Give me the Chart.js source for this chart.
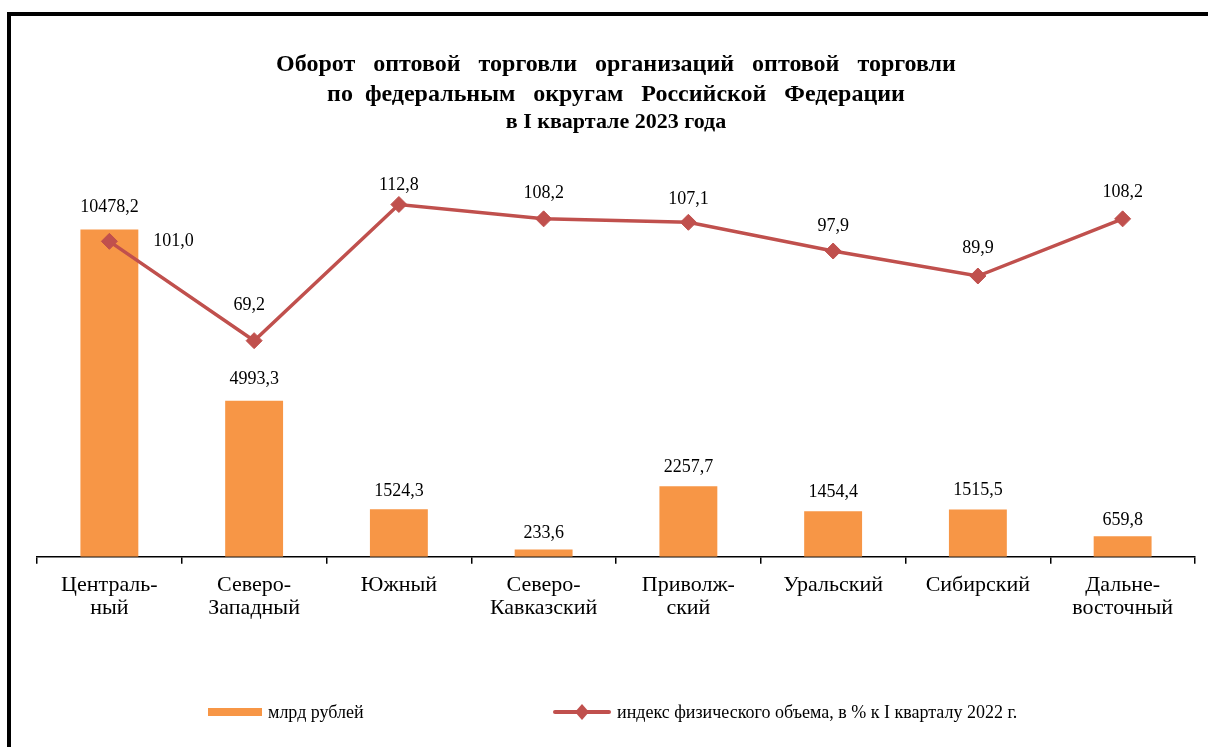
<!DOCTYPE html>
<html>
<head>
<meta charset="utf-8">
<script src="https://cdn.jsdelivr.net/npm/chart.js@4/dist/chart.umd.min.js"></script>
<style>
  html, body { margin: 0; padding: 0; background: #fff; overflow: hidden; }
  #wrap { position: relative; width: 1208px; height: 747px; }
  #frame { position: absolute; left: 7px; top: 12px; width: 1300px; height: 900px;
           border-top: 4px solid #000; border-left: 4px solid #000; box-sizing: border-box; }
  canvas { position: absolute; left: 0; top: 0; }
</style>
</head>
<body>
<div id="wrap">
  <div id="frame"></div>
  <canvas id="c" width="1208" height="747"></canvas>
</div>
<script>
// ---- Data ----
const categories = [
  ['Централь-', 'ный'],
  ['Северо-', 'Западный'],
  ['Южный'],
  ['Северо-', 'Кавказский'],
  ['Приволж-', 'ский'],
  ['Уральский'],
  ['Сибирский'],
  ['Дальне-', 'восточный']
];
const turnover = [10478.2, 4993.3, 1524.3, 233.6, 2257.7, 1454.4, 1515.5, 659.8];
const volumeIndex = [101.0, 69.2, 112.8, 108.2, 107.1, 97.9, 89.9, 108.2];
const seriesNames = ['млрд рублей', 'индекс физического объема, в % к I кварталу 2022 г.'];
const titleLines = [
  'Оборот   оптовой   торговли   организаций   оптовой   торговли',
  'по  федеральным   округам   Российской   Федерации'
];
const subtitleText = 'в I квартале 2023 года';

// ---- Styles ----
const BAR_COLOR = '#F79646';
const LINE_COLOR = '#C0504D';
const SERIF = "'Liberation Serif', 'Times New Roman', serif";
const barLabelGap = [22, 22, 18, 16, 19, 19, 19, 16];
const lineLabelShift = [
  { dx: 64, dy: 0 }, { dx: -5, dy: -35 }, { dx: 0, dy: -19 }, { dx: 0, dy: -26 },
  { dx: 0, dy: -23 }, { dx: 0, dy: -25 }, { dx: 0, dy: -28 }, { dx: 0, dy: -27 }
];

function fmt(v) { return v.toFixed(1).replace('.', ','); }

const valueLabels = {
  id: 'valueLabels',
  afterDatasetsDraw(chart) {
    const ctx = chart.ctx;
    ctx.save();
    ctx.font = '18px ' + SERIF;
    ctx.fillStyle = '#000';
    ctx.textAlign = 'center';
    ctx.textBaseline = 'middle';
    chart.getDatasetMeta(0).data.forEach((el, i) => {
      ctx.fillText(fmt(turnover[i]), el.x, el.y - barLabelGap[i]);
    });
    chart.getDatasetMeta(1).data.forEach((el, i) => {
      const s = lineLabelShift[i];
      ctx.fillText(fmt(volumeIndex[i]), el.x + s.dx, el.y + s.dy);
    });
    ctx.restore();
  }
};

const customLegend = {
  id: 'customLegend',
  afterDraw(chart) {
    const ctx = chart.ctx;
    const y = 712;
    ctx.save();
    ctx.fillStyle = BAR_COLOR;
    ctx.fillRect(208, y - 4, 54, 8);
    ctx.font = '18px ' + SERIF;
    ctx.fillStyle = '#000';
    ctx.textBaseline = 'middle';
    ctx.textAlign = 'left';
    ctx.fillText(seriesNames[0], 268, y + 1);
    ctx.strokeStyle = LINE_COLOR;
    ctx.lineWidth = 4;
    ctx.lineCap = 'round';
    ctx.beginPath();
    ctx.moveTo(555, y);
    ctx.lineTo(609, y);
    ctx.stroke();
    ctx.fillStyle = LINE_COLOR;
    ctx.beginPath();
    ctx.moveTo(582, y - 8); ctx.lineTo(589, y); ctx.lineTo(582, y + 8); ctx.lineTo(575, y);
    ctx.closePath();
    ctx.fill();
    ctx.fillStyle = '#000';
    ctx.fillText(seriesNames[1], 617, y + 1);
    ctx.restore();
  }
};

new Chart(document.getElementById('c'), {
  data: {
    labels: categories,
    datasets: [
      {
        type: 'bar',
        label: seriesNames[0],
        data: turnover,
        backgroundColor: BAR_COLOR,
        borderWidth: 0,
        barPercentage: 0.4,
        categoryPercentage: 1.0,
        yAxisID: 'y',
        order: 2
      },
      {
        type: 'line',
        label: seriesNames[1],
        data: volumeIndex,
        borderColor: LINE_COLOR,
        backgroundColor: LINE_COLOR,
        borderWidth: 3.5,
        pointStyle: 'rectRot',
        pointRadius: 8,
        pointBorderWidth: 1,
        pointBackgroundColor: LINE_COLOR,
        pointBorderColor: LINE_COLOR,
        tension: 0,
        yAxisID: 'y1',
        order: 1
      }
    ]
  },
  options: {
    responsive: false,
    animation: false,
    devicePixelRatio: 1,
    layout: { padding: { left: 37, right: 13, top: 0, bottom: 117 } },
    plugins: {
      legend: { display: false },
      tooltip: { enabled: false },
      title: {
        display: true,
        text: titleLines,
        color: '#000',
        font: { family: SERIF, size: 24, weight: 'bold', lineHeight: 30 / 24 },
        padding: { top: 50, bottom: 0 }
      },
      subtitle: {
        display: true,
        text: subtitleText,
        color: '#000',
        font: { family: SERIF, size: 22, weight: 'bold', lineHeight: 24 / 22 },
        padding: { top: 0, bottom: 48 }
      }
    },
    scales: {
      x: {
        offset: true,
        grid: { display: true, drawOnChartArea: false, drawTicks: true, tickLength: 7, color: '#000', lineWidth: 1.5, offset: true },
        border: { display: true, color: '#000', width: 1.5 },
        ticks: { color: '#000', font: { family: SERIF, size: 22, lineHeight: 1.05 }, padding: 10, maxRotation: 0, autoSkip: false }
      },
      y: { display: false, min: 0, max: 12000 },
      y1: { display: false, min: 0, max: 120, position: 'right' }
    }
  },
  plugins: [valueLabels, customLegend]
});
</script>
</body>
</html>
